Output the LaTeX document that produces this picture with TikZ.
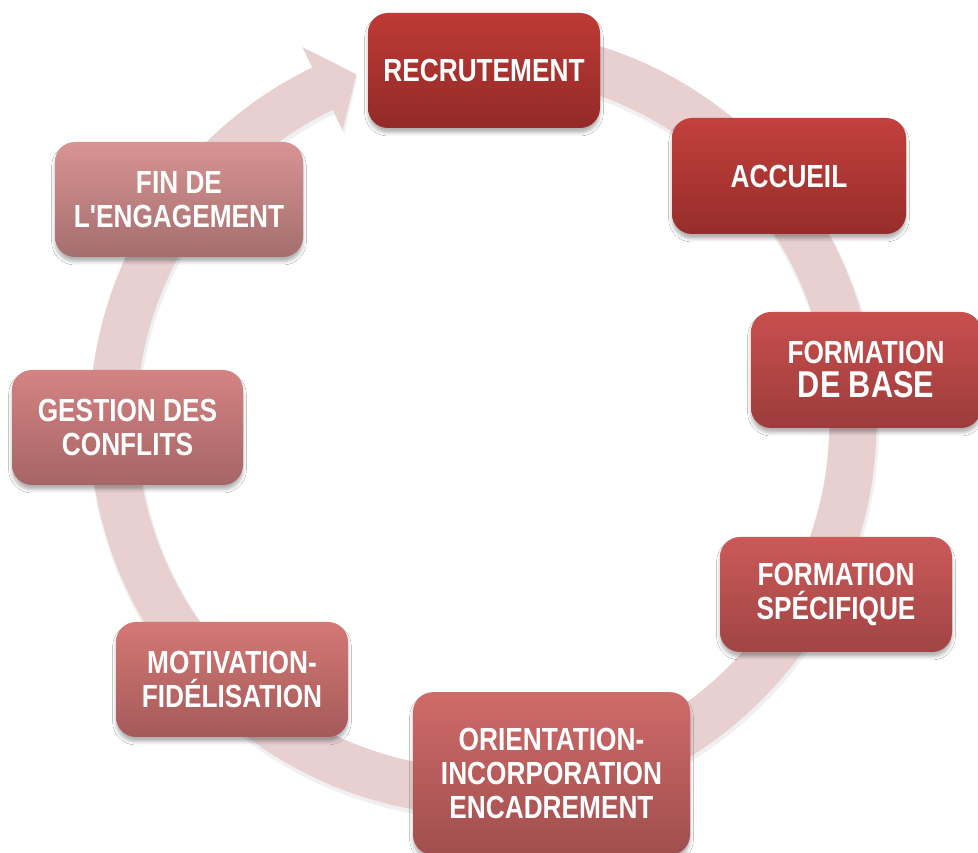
\documentclass[tikz,border=0pt]{standalone}
\usepackage{fontspec}
\newfontfamily\boxfont[FakeStretch=0.82]{Liberation Sans}
\usetikzlibrary{shadows.blur}
\definecolor{ringc}{HTML}{E8D0D1}
\definecolor{recT}{HTML}{BE3A36}\definecolor{recB}{HTML}{922A27}
\definecolor{accT}{HTML}{C3403D}\definecolor{accB}{HTML}{962D2A}
\definecolor{fdbT}{HTML}{C84F4E}\definecolor{fdbB}{HTML}{9C3C3B}
\definecolor{speT}{HTML}{CB5A59}\definecolor{speB}{HTML}{A04444}
\definecolor{oriT}{HTML}{CF6B69}\definecolor{oriB}{HTML}{A04E4E}
\definecolor{motT}{HTML}{D47876}\definecolor{motB}{HTML}{A45A59}
\definecolor{gesT}{HTML}{D48383}\definecolor{gesB}{HTML}{A66565}
\definecolor{finT}{HTML}{D89493}\definecolor{finB}{HTML}{A46E6E}
\begin{document}
\begin{tikzpicture}[x=0.75pt,y=0.75pt,
  stagebox/.style n args={4}{rounded corners=15pt, top color=#1, bottom color=#2,
    minimum width=#3, minimum height=#4, inner sep=0pt, align=center, text=white,
    font=\boxfont\bfseries\fontsize{24}{25.5}\selectfont,
    blur shadow={shadow xshift=0pt, shadow yshift=-3.5pt, shadow blur radius=2.5pt, shadow opacity=30}},
  ringpart/.style={fill=ringc}]
\useasboundingbox (0,0) rectangle (978,853);
\clip (0,0) rectangle (978,853);
\fill[white] (0,0) rectangle (978,853);
% ring arrow
\begin{scope}[shift={(483,431)}]
\fill[black, opacity=0.06, shift={(1,-3)}] (88:395) arc[start angle=88, end angle=-244.3, radius=395] -- (-244.3:418) -- (-250:371) -- (-244.3:322) -- (-244.3:345) arc[start angle=-244.3, end angle=88, radius=345] -- cycle;
\path[ringpart] (88:393.5) arc[start angle=88, end angle=-244.3, radius=393.5] -- (-244.3:416) -- (-250:370) -- (-244.3:324) -- (-244.3:346.5) arc[start angle=-244.3, end angle=88, radius=346.5] -- cycle;
\end{scope}
% boxes
\node[stagebox={recT}{recB}{174pt}{86.25pt}] (rec) at (484,782.5) {RECRUTEMENT};
\node[stagebox={accT}{accB}{175.5pt}{87pt}] (acc) at (789,677) {ACCUEIL};
\node[stagebox={fdbT}{fdbB}{172.5pt}{87pt}] (fdb) at (866,483) {FORMATION\\{\fontsize{28}{28}\selectfont DE BASE}};
\node[stagebox={speT}{speB}{174pt}{86.25pt}] (spe) at (836,258.5) {FORMATION\\SPÉCIFIQUE};
\node[stagebox={oriT}{oriB}{207.75pt}{122pt}] (ori) at (551.5,79.5) {ORIENTATION-\\INCORPORATION\\ENCADREMENT};
\node[stagebox={motT}{motB}{174pt}{86.25pt}] (mot) at (232,173.5) {MOTIVATION-\\FIDÉLISATION};
\node[stagebox={gesT}{gesB}{173.25pt}{86.25pt}] (ges) at (127.5,425.5) {GESTION DES\\CONFLITS};
\node[stagebox={finT}{finB}{186pt}{86.25pt}] (fin) at (179,653.5) {FIN DE\\L'ENGAGEMENT};
\end{tikzpicture}
\end{document}
